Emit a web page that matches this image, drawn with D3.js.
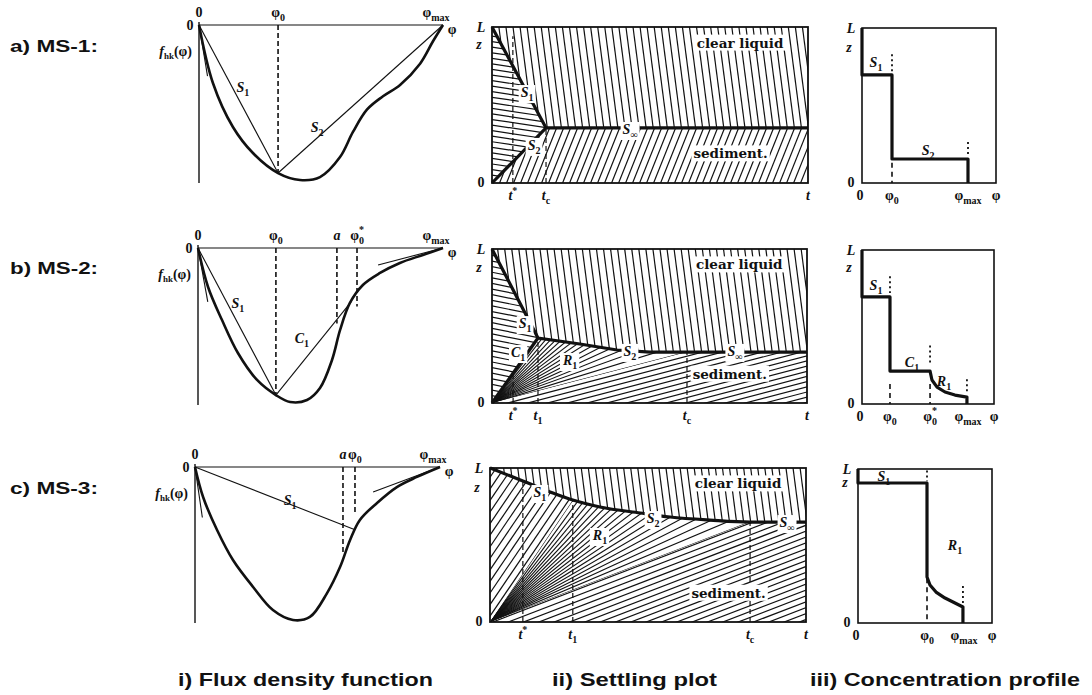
<!DOCTYPE html>
<html>
<head>
<meta charset="utf-8">
<script src="https://cdn.jsdelivr.net/npm/d3@7"></script>
<style>
    body { margin: 0; background: #fff; }
    svg { display: block; }
    .lbl { font-family: "Liberation Serif", "DejaVu Serif", serif; font-weight: bold; font-size: 14px; fill: #111; }
    .note { font-family: "Liberation Serif", "DejaVu Serif", serif; font-weight: bold; font-size: 14px; fill: #111; }
    .word { font-family: "DejaVu Serif", "Liberation Serif", serif; font-weight: bold; font-size: 13.5px; fill: #111; }
    .row { font-family: "Liberation Sans", Arial, sans-serif; font-weight: bold; font-size: 17px; fill: #111; }
    .cap { font-family: "Liberation Sans", Arial, sans-serif; font-weight: bold; font-size: 18px; fill: #111; }
</style>
</head>
<body>
<script>
(function(){

    //row names and panel captions
    var rowNames = ["a) MS-1:", "b) MS-2:", "c) MS-3:"];
    var captions = ["i) Flux density function", "ii) Settling plot", "iii) Concentration profile"];

    //flux density curves: phi as fraction of phi_max, f as fraction of |min f|
    var fluxA = [[0,0],[0.057,-0.374],[0.139,-0.658],[0.221,-0.826],[0.324,-0.955],[0.414,-1.0],[0.496,-0.981],
                 [0.578,-0.852],[0.631,-0.690],[0.689,-0.545],[0.754,-0.460],[0.824,-0.387],[0.906,-0.250],[0.959,-0.105],[1,0]];
    var fluxB = [[0,0],[0.041,-0.253],[0.098,-0.468],[0.163,-0.682],[0.241,-0.857],[0.318,-0.955],[0.376,-1.0],[0.445,-0.987],
                 [0.498,-0.909],[0.547,-0.727],[0.580,-0.532],[0.620,-0.357],[0.673,-0.240],[0.743,-0.162],[0.824,-0.097],[0.918,-0.045],[1,0]];
    var fluxC = [[0,0],[0.033,-0.196],[0.090,-0.412],[0.155,-0.608],[0.237,-0.784],[0.318,-0.935],[0.400,-1.0],[0.469,-0.980],
                 [0.539,-0.824],[0.592,-0.654],[0.633,-0.477],[0.673,-0.346],[0.743,-0.235],[0.824,-0.131],[0.906,-0.065],[1,0]];

    //chords and tangents drawn as thin lines
    var chordsA = [[[0,0],[0.324,-0.955]], [[0.324,-0.955],[1,0]], [[0,0],[0.035,-0.33]]];
    var chordsB = [[[0,0],[0.318,-0.955]], [[0.318,-0.955],[0.625,-0.35]], [[0.735,-0.11],[1,0]], [[0,0],[0.04,-0.35]]];
    var chordsC = [[[0,0],[0.653,-0.41]], [[0.727,-0.163],[1,0]], [[0,0],[0.03,-0.33]]];

    //dashed verticals [phi, lower end]
    var fluxDashA = [[0.324,-0.955]];
    var fluxDashB = [[0.318,-0.955],[0.567,-0.49],[0.649,-0.38]];
    var fluxDashC = [[0.604,-0.56],[0.653,-0.30]];

    //tick labels along phi [phi, base, sub, sup]
    var fluxTicksA = [[0,"0"],[0.324,"φ","0"],[1,"φ","max"]];
    var fluxTicksB = [[0,"0"],[0.318,"φ","0"],[0.567,"a"],[0.649,"φ","0","*"],[1,"φ","max"]];
    var fluxTicksC = [[0,"0"],[0.604,"a"],[0.653,"φ","0"],[1,"φ","max"]];

    //curve names [phi, f, letter, index]
    var fluxNotesA = [[0.18,-0.40,"S","1"],[0.484,-0.658,"S","2"]];
    var fluxNotesB = [[0.163,-0.357,"S","1"],[0.424,-0.584,"C","1"]];
    var fluxNotesC = [[0.388,-0.216,"S","1"]];

    //settling plots: upper interface [t, z] (t and z as fractions of axis)
    var shockA = [[0,1],[0.171,0.353],[1,0.353]];
    var shockB = [[0,1],[0.146,0.422],[0.279,0.383],[0.397,0.344],[0.502,0.331],[0.619,0.331],[1,0.331]];
    var shockC = [[0,1],[0.104,0.916],[0.199,0.838],[0.262,0.792],[0.348,0.747],[0.475,0.708],[0.570,0.682],[0.696,0.662],[0.823,0.649],[1,0.649]];
    //rising interface from the bottom
    var lowerA = [[0,0],[0.171,0.353]];
    var lowerB = [[0,0],[0.146,0.422]];

    //dashed time lines [t, z top]
    var settleDashA = [[0.066,0.94],[0.171,0.353]];
    var settleDashB = [[0.067,0.2],[0.146,0.422],[0.619,0.331]];
    var settleDashC = [[0.104,0.916],[0.262,0.792],[0.823,0.649]];

    //time tick labels [t, base, sub, sup]
    var timeTicksA = [[0.066,"t","","*"],[0.171,"t","c"],[1,"t"]];
    var timeTicksB = [[0.067,"t","","*"],[0.146,"t","1"],[0.619,"t","c"],[1,"t"]];
    var timeTicksC = [[0.104,"t","","*"],[0.262,"t","1"],[0.823,"t","c"],[1,"t"]];

    //names inside settling plots [t, z, letter, index]
    var settleNotesA = [[0.111,0.583,"S","1"],[0.133,0.244,"S","2"],[0.437,0.346,"S","∞"]];
    var settleNotesB = [[0.105,0.519,"S","1"],[0.083,0.331,"C","1"],[0.248,0.279,"R","1"],[0.438,0.338,"S","2"],[0.771,0.338,"S","∞"]];
    var settleNotesC = [[0.158,0.844,"S","1"],[0.348,0.565,"R","1"],[0.516,0.675,"S","2"],[0.94,0.649,"S","∞"]];
    var regionWords = [["clear liquid",0.785,0.90],["sediment.",0.755,0.19]];

    //concentration profiles [phi, z]
    var profA = [[0,1],[0,0.697],[0.283,0.697],[0.283,0.155],[1,0.155],[1,0]];
    var profB = [[0,1],[0,0.695],[0.264,0.695],[0.264,0.214],[0.642,0.214],[0.66,0.156],[0.708,0.110],[0.783,0.078],[0.877,0.058],[0.99,0.045],[0.99,0]];
    var profC = [[0,1],[0,0.909],[0.651,0.909],[0.651,0.299],[0.679,0.247],[0.736,0.201],[0.821,0.162],[0.915,0.130],[0.99,0.104],[0.99,0]];
    //dotted and dashed marks [phi, z top, z bottom]
    var dotsA = [[0.283,0.83,0.72],[1,0.265,0.18]];
    var dotsB = [[0.264,0.83,0.72],[0.642,0.38,0.25],[0.99,0.16,0.07]];
    var dotsC = [[0.651,0.99,0.92],[0.99,0.24,0.13]];
    var profDashA = [[0.283,0.13,0]];
    var profDashB = [[0.264,0.13,0],[0.642,0.13,0]];
    var profDashC = [[0.651,0.29,0]];
    var profTicksA = [[0,"0"],[0.283,"φ","0"],[1,"φ","max"]];
    var profTicksB = [[0,"0"],[0.264,"φ","0"],[0.642,"φ","0","*"],[1,"φ","max"]];
    var profTicksC = [[0,"0"],[0.651,"φ","0"],[1,"φ","max"]];
    var profNotesA = [[0.132,0.78,"S","1"],[0.623,0.213,"S","2"]];
    var profNotesB = [[0.132,0.773,"S","1"],[0.472,0.273,"C","1"],[0.774,0.149,"R","1"]];
    var profNotesC = [[0.245,0.955,"S","1"],[0.915,0.506,"R","1"]];
    var zLevel = [[0.885,0.87],[0.877,0.88],[0.87,0.909]]; //[settling, profile]

    //panel frames
    var fluxFrames = [{x:199,y:25,w:244,h:155},{x:198,y:248,w:245,h:154},{x:195,y:467,w:245,h:153}];
    var settleFrames = [{x:492,y:27,w:316,h:156},{x:492,y:249,w:315,h:154},{x:490,y:468,w:316,h:154}];
    var profFrames = [{x:862,y:28,w:134,h:155},{x:862,y:250,w:132,h:154},{x:858,y:469,w:134,h:154}];
    var phiUnit = 106; //profile pixels per phi_max

    var ink = "#111";

    var svg = d3.select("body")
        .append("svg")
        .attr("width", 1092)
        .attr("height", 695);

    var clipCount = 0;
    function addClip(d){
        var id = "clip" + (clipCount++);
        svg.append("clipPath").attr("id", id).append("path").attr("d", d);
        return id;
    };

    //math style text: base letter with subscript / superscript
    function mathLabel(g, x, y, base, sub, sup, opt){
        opt = opt || {};
        var t = g.append("text")
            .attr("class", opt.cls || "lbl")
            .attr("x", x)
            .attr("y", y)
            .attr("text-anchor", opt.anchor || "middle");
        t.append("tspan").text(base).style("font-style", opt.italic ? "italic" : null);
        if (sub){
            t.append("tspan").attr("dy", 4).attr("font-size", "10px").text(sub);
        };
        if (sup){
            t.append("tspan").attr("dx", sub ? -5 : 0).attr("dy", sub ? -11 : -6).attr("font-size", "10px").text(sup);
        };
        return t;
    };

    //label sitting on a white patch
    function boxLabel(g, x, y, base, sub, cls){
        var t = mathLabel(g, x, y + 5, base, sub, null, {italic: cls ? false : true, cls: cls || "note"});
        var b = t.node().getBBox();
        g.insert("rect", function(){ return t.node(); })
            .attr("x", b.x - 2).attr("y", b.y)
            .attr("width", b.width + 4).attr("height", b.height)
            .attr("fill", "#fff");
    };

    function scalesFor(fr, xDom, yDom){
        return {
            x: d3.scaleLinear().domain(xDom).range([fr.x, fr.x + fr.w]),
            y: d3.scaleLinear().domain(yDom).range([fr.y + fr.h, fr.y])
        };
    };

    function lineGen(sc, curve){
        return d3.line()
            .x(function(d){ return sc.x(d[0]); })
            .y(function(d){ return sc.y(d[1]); })
            .curve(curve || d3.curveLinear);
    };

    //parallel hatching clipped to a region
    function hatchLines(g, clipD, dir, spacing, fr){
        var id = addClip(clipD);
        var len = Math.hypot(dir[0], dir[1]), dx = dir[0] / len, dy = dir[1] / len;
        var cx = fr.x + fr.w / 2, cy = fr.y + fr.h / 2, R = Math.hypot(fr.w, fr.h) / 2 + 6;
        g.append("g")
            .attr("clip-path", "url(#" + id + ")")
            .selectAll("line")
            .data(d3.range(-R, R, spacing))
            .enter()
            .append("line")
            .attr("x1", function(o){ return cx - dy * o - dx * R; })
            .attr("y1", function(o){ return cy + dx * o - dy * R; })
            .attr("x2", function(o){ return cx - dy * o + dx * R; })
            .attr("y2", function(o){ return cy + dx * o + dy * R; })
            .attr("stroke", ink)
            .attr("stroke-width", 1.2);
    };

    //fan of rays from the origin clipped to a region
    function hatchFan(g, clipD, o, dirA, dirB, n){
        var id = addClip(clipD);
        var a0 = Math.atan2(dirA[1], dirA[0]), a1 = Math.atan2(dirB[1], dirB[0]);
        g.append("g")
            .attr("clip-path", "url(#" + id + ")")
            .selectAll("line")
            .data(d3.range(n))
            .enter()
            .append("line")
            .attr("x1", o[0]).attr("y1", o[1])
            .attr("x2", function(i){ return o[0] + 600 * Math.cos(a0 + (a1 - a0) * i / (n - 1)); })
            .attr("y2", function(i){ return o[1] + 600 * Math.sin(a0 + (a1 - a0) * i / (n - 1)); })
            .attr("stroke", ink)
            .attr("stroke-width", 1.1);
    };

    //----- i) flux density function -----
    function drawFlux(i, curve, chords, dashes, ticks, notes){
        var fr = fluxFrames[i];
        var s = scalesFor(fr, [0, 1], [-1, 0]);
        var g = svg.append("g").attr("class", "flux");

        g.append("line")
            .attr("x1", s.x(0)).attr("x2", s.x(1))
            .attr("y1", s.y(0)).attr("y2", s.y(0))
            .attr("stroke", ink).attr("stroke-width", 1.2);
        g.append("line")
            .attr("x1", s.x(0)).attr("x2", s.x(0))
            .attr("y1", s.y(0) - 3).attr("y2", s.y(-1) + 3)
            .attr("stroke", ink).attr("stroke-width", 1.4);

        g.selectAll(".dash")
            .data(dashes)
            .enter()
            .append("line")
            .attr("x1", function(d){ return s.x(d[0]); })
            .attr("x2", function(d){ return s.x(d[0]); })
            .attr("y1", s.y(0))
            .attr("y2", function(d){ return s.y(d[1]); })
            .attr("stroke", ink).attr("stroke-width", 1.6)
            .attr("stroke-dasharray", "5,3");

        g.selectAll(".chord")
            .data(chords)
            .enter()
            .append("path")
            .attr("d", lineGen(s))
            .attr("fill", "none")
            .attr("stroke", ink).attr("stroke-width", 1.1);

        g.append("path")
            .datum(curve)
            .attr("d", lineGen(s, d3.curveCatmullRom))
            .attr("fill", "none")
            .attr("stroke", ink).attr("stroke-width", 2.6);

        ticks.forEach(function(t){
            var dx = t[0] === 1 ? -7 : 0;
            mathLabel(g, s.x(t[0]) + dx, s.y(0) - 8, t[1], t[2], t[3], {italic: t[1] === "a"});
        });
        mathLabel(g, s.x(0) - 9, s.y(0) + 5, "0");
        mathLabel(g, s.x(1) + 9, s.y(0) + 9, "φ");

        notes.forEach(function(n){
            mathLabel(g, s.x(n[0]), s.y(n[1]) + 5, n[2], n[3], null, {italic: true, cls: "note"});
        });

        //f_hk(phi)
        var t = g.append("text").attr("class", "lbl")
            .attr("x", fr.x - 7).attr("y", fr.y + 31).attr("text-anchor", "end");
        t.append("tspan").style("font-style", "italic").text("f");
        t.append("tspan").attr("dy", 3).attr("font-size", "9px").text("hk");
        t.append("tspan").attr("dy", -3).text("(φ)");
    };

    drawFlux(0, fluxA, chordsA, fluxDashA, fluxTicksA, fluxNotesA);
    drawFlux(1, fluxB, chordsB, fluxDashB, fluxTicksB, fluxNotesB);
    drawFlux(2, fluxC, chordsC, fluxDashC, fluxTicksC, fluxNotesC);

    //----- ii) settling plots -----
    function settleFrame(i){
        var fr = settleFrames[i];
        return {fr: fr, s: scalesFor(fr, [0, 1], [0, 1]), g: svg.append("g").attr("class", "settle")};
    };

    function clearPath(s, shock, curve){
        return lineGen(s, curve)(shock) + "L" + s.x(1) + "," + s.y(1) + "L" + s.x(0) + "," + s.y(1) + "Z";
    };
    function polyPath(s, pts){
        return lineGen(s)(pts) + "Z";
    };
    function originPath(s, pts, curve){
        return "M" + s.x(0) + "," + s.y(0) + "L" + lineGen(s, curve)(pts).substring(1) + "Z";
    };
    function screenDir(s, p){
        return [s.x(p[0]) - s.x(0), s.y(p[1]) - s.y(0)];
    };

    function finishSettle(P, i, shock, lower, dashes, ticks, notes, curve){
        var s = P.s, g = P.g, fr = P.fr;

        g.selectAll(".tdash")
            .data(dashes)
            .enter()
            .append("line")
            .attr("x1", function(d){ return s.x(d[0]); })
            .attr("x2", function(d){ return s.x(d[0]); })
            .attr("y1", s.y(0))
            .attr("y2", function(d){ return s.y(d[1]); })
            .attr("stroke", ink).attr("stroke-width", 1.2)
            .attr("stroke-dasharray", "5,3");

        g.append("rect")
            .attr("x", fr.x).attr("y", fr.y)
            .attr("width", fr.w).attr("height", fr.h)
            .attr("fill", "none").attr("stroke", ink).attr("stroke-width", 1.8);

        g.append("path").datum(shock)
            .attr("d", lineGen(s, curve))
            .attr("fill", "none").attr("stroke", ink).attr("stroke-width", 3.2);
        if (lower){
            g.append("path").datum(lower)
                .attr("d", lineGen(s))
                .attr("fill", "none").attr("stroke", ink).attr("stroke-width", 3.2);
        };

        notes.forEach(function(n){
            boxLabel(g, s.x(n[0]), s.y(n[1]), n[2], n[3]);
        });
        regionWords.forEach(function(w){
            boxLabel(g, s.x(w[1]), s.y(w[2]), w[0], null, "word");
        });

        mathLabel(g, fr.x - 11, fr.y + 5, "L", null, null, {italic: true});
        mathLabel(g, fr.x - 13, s.y(zLevel[i][0]) + 4, "z", null, null, {italic: true});
        mathLabel(g, fr.x - 11, fr.y + fr.h + 4, "0");
        ticks.forEach(function(t){
            mathLabel(g, s.x(t[0]), fr.y + fr.h + 17, t[1], t[2], t[3], {italic: true});
        });
    };

    //MS-1
    var PA = settleFrame(0);
    var jA = lowerA[1];
    hatchLines(PA.g, polyPath(PA.s, [[0,0],[0,1],jA]), [1,0.15], 5.5, PA.fr);
    hatchLines(PA.g, clearPath(PA.s, shockA), [0.13,1], 7, PA.fr);
    hatchLines(PA.g, polyPath(PA.s, [[0,0],jA,[1,jA[1]],[1,0]]), [1,-2.5], 6.5, PA.fr);
    finishSettle(PA, 0, shockA, lowerA, settleDashA, timeTicksA, settleNotesA);

    //MS-2
    var PB = settleFrame(1);
    var jB = shockB[1], tcB = shockB[5];
    hatchLines(PB.g, polyPath(PB.s, [[0,0],[0,1],jB]), [1,0.2], 5.5, PB.fr);
    hatchLines(PB.g, clearPath(PB.s, shockB), [0.13,1], 7, PB.fr);
    hatchFan(PB.g, originPath(PB.s, shockB.slice(1,6)), [PB.s.x(0),PB.s.y(0)], screenDir(PB.s, jB), screenDir(PB.s, tcB), 17);
    hatchLines(PB.g, polyPath(PB.s, [[0,0],tcB,[1,tcB[1]],[1,0]]), screenDir(PB.s, tcB), 5, PB.fr);
    finishSettle(PB, 1, shockB, lowerB, settleDashB, timeTicksB, settleNotesB);

    //MS-3
    var PC = settleFrame(2);
    var mono = d3.curveMonotoneX;
    var jC = shockC[3], tcC = shockC[8];
    hatchLines(PC.g, "M" + PC.s.x(0) + "," + PC.s.y(0) + "L" + lineGen(PC.s, mono)(shockC.slice(0,4)).substring(1) + "Z",
        screenDir(PC.s, jC), 6.5, PC.fr);
    hatchLines(PC.g, clearPath(PC.s, shockC, mono), [0.13,1], 7, PC.fr);
    hatchFan(PC.g, originPath(PC.s, shockC.slice(3,9), mono), [PC.s.x(0),PC.s.y(0)], screenDir(PC.s, jC), screenDir(PC.s, tcC), 20);
    hatchLines(PC.g, polyPath(PC.s, [[0,0],tcC,[1,tcC[1]],[1,0]]), screenDir(PC.s, tcC), 5.5, PC.fr);
    finishSettle(PC, 2, shockC, null, settleDashC, timeTicksC, settleNotesC, mono);

    //----- iii) concentration profiles -----
    function drawProfile(i, prof, dots, dashes, ticks, notes){
        var fr = profFrames[i];
        var s = scalesFor(fr, [0, fr.w / phiUnit], [0, 1]);
        var g = svg.append("g").attr("class", "profile");

        g.append("rect")
            .attr("x", fr.x).attr("y", fr.y)
            .attr("width", fr.w).attr("height", fr.h)
            .attr("fill", "none").attr("stroke", ink).attr("stroke-width", 1.6);

        g.selectAll(".dots")
            .data(dots)
            .enter()
            .append("line")
            .attr("x1", function(d){ return s.x(d[0]); })
            .attr("x2", function(d){ return s.x(d[0]); })
            .attr("y1", function(d){ return s.y(d[1]); })
            .attr("y2", function(d){ return s.y(d[2]); })
            .attr("stroke", ink).attr("stroke-width", 1.8)
            .attr("stroke-dasharray", "2,3");

        g.selectAll(".pdash")
            .data(dashes)
            .enter()
            .append("line")
            .attr("x1", function(d){ return s.x(d[0]); })
            .attr("x2", function(d){ return s.x(d[0]); })
            .attr("y1", function(d){ return s.y(d[1]); })
            .attr("y2", function(d){ return s.y(d[2]); })
            .attr("stroke", ink).attr("stroke-width", 1.6)
            .attr("stroke-dasharray", "5,4");

        g.append("path").datum(prof)
            .attr("d", lineGen(s))
            .attr("fill", "none").attr("stroke", ink).attr("stroke-width", 3.2)
            .attr("stroke-linejoin", "round");

        notes.forEach(function(n){
            mathLabel(g, s.x(n[0]), s.y(n[1]) + 5, n[2], n[3], null, {italic: true, cls: "note"});
        });

        mathLabel(g, fr.x - 11, fr.y + 5, "L", null, null, {italic: true});
        mathLabel(g, fr.x - 13, s.y(zLevel[i][1]) + 4, "z", null, null, {italic: true});
        mathLabel(g, fr.x - 11, fr.y + fr.h + 4, "0");
        ticks.forEach(function(t){
            var dx = t[0] === 0 ? -2 : 0;
            mathLabel(g, s.x(t[0]) + dx, fr.y + fr.h + 17, t[1], t[2], t[3]);
        });
        mathLabel(g, fr.x + fr.w, fr.y + fr.h + 17, "φ");
    };

    drawProfile(0, profA, dotsA, profDashA, profTicksA, profNotesA);
    drawProfile(1, profB, dotsB, profDashB, profTicksB, profNotesB);
    drawProfile(2, profC, dotsC, profDashC, profTicksC, profNotesC);

    //----- row names and captions -----
    var rowY = [52, 274, 494];
    svg.selectAll(".row")
        .data(rowNames)
        .enter()
        .append("text")
        .attr("class", "row")
        .attr("x", 10)
        .attr("y", function(d, i){ return rowY[i]; })
        .attr("textLength", 88)
        .attr("lengthAdjust", "spacingAndGlyphs")
        .text(function(d){ return d; });

    var capX = [178, 552, 810], capW = [255, 165, 270];
    svg.selectAll(".cap")
        .data(captions)
        .enter()
        .append("text")
        .attr("class", "cap")
        .attr("x", function(d, i){ return capX[i]; })
        .attr("y", 686)
        .attr("textLength", function(d, i){ return capW[i]; })
        .attr("lengthAdjust", "spacingAndGlyphs")
        .text(function(d){ return d; });

})();
</script>
</body>
</html>
